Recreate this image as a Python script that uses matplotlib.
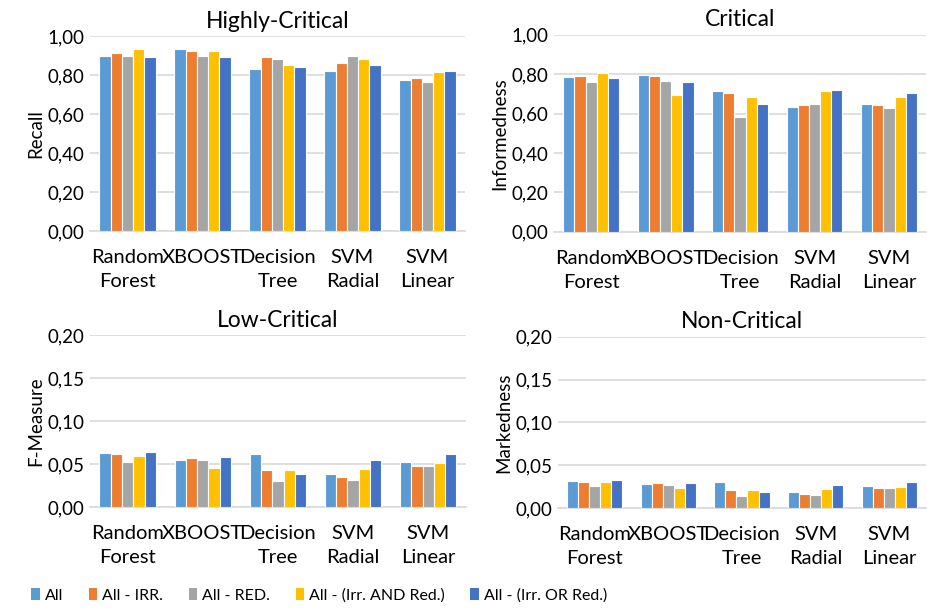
import numpy as np
import matplotlib
matplotlib.use("Agg")
import matplotlib.pyplot as plt
from matplotlib.patches import Patch

plt.rcParams["font.family"] = ["Lato", "DejaVu Sans"]

models = ["Random\nForest", "XBOOST", "Decision\nTree", "SVM\nRadial", "SVM\nLinear"]
series = ["All", "All - IRR.", "All - RED.", "All - (Irr. AND Red.)", "All - (Irr. OR Red.)"]
colors = ["#5B9BD5", "#ED7D31", "#A5A5A5", "#FFC000", "#4472C4"]

# rows = models, columns = series
recall = [
    [0.90, 0.913, 0.90, 0.932, 0.89],
    [0.932, 0.921, 0.90, 0.921, 0.89],
    [0.829, 0.89, 0.88, 0.85, 0.839],
    [0.819, 0.86, 0.90, 0.88, 0.85],
    [0.773, 0.783, 0.764, 0.814, 0.819],
]
informedness = [
    [0.785, 0.790, 0.760, 0.805, 0.780],
    [0.795, 0.790, 0.765, 0.692, 0.758],
    [0.714, 0.704, 0.582, 0.682, 0.651],
    [0.633, 0.646, 0.651, 0.714, 0.719],
    [0.651, 0.646, 0.628, 0.682, 0.702],
]
fmeasure = [
    [0.063, 0.061, 0.052, 0.059, 0.064],
    [0.055, 0.057, 0.054, 0.045, 0.058],
    [0.061, 0.043, 0.030, 0.043, 0.038],
    [0.038, 0.035, 0.031, 0.044, 0.055],
    [0.052, 0.048, 0.048, 0.051, 0.061],
]
markedness = [
    [0.032, 0.030, 0.026, 0.030, 0.033],
    [0.028, 0.029, 0.027, 0.023, 0.029],
    [0.030, 0.021, 0.014, 0.021, 0.019],
    [0.019, 0.016, 0.015, 0.022, 0.027],
    [0.026, 0.023, 0.023, 0.025, 0.030],
]

panels = [
    ("Highly-Critical", "Recall", recall, [0.097, 0.621, 0.404, 0.320], np.arange(0, 1.01, 0.2), 1.0),
    ("Critical", "Informedness", informedness, [0.597, 0.620, 0.401, 0.323], np.arange(0, 1.01, 0.2), 1.0),
    ("Low-Critical", "F-Measure", fmeasure, [0.097, 0.169, 0.405, 0.282], np.arange(0, 0.201, 0.05), 0.2),
    ("Non-Critical", "Markedness", markedness, [0.601, 0.167, 0.397, 0.281], np.arange(0, 0.201, 0.05), 0.2),
]

fig = plt.figure(figsize=(9.28, 6.10), dpi=100)
x = np.arange(len(models))
w = 0.15

for title, ylab, vals, rect, ticks, top in panels:
    ax = fig.add_axes(rect)
    vals = np.array(vals)
    for j in range(len(series)):
        ax.bar(x + (j - 2) * w, vals[:, j], width=w, color=colors[j],
               edgecolor="white", linewidth=0.8, zorder=3)
    ax.set_xlim(-0.5, len(models) - 0.5)
    ax.set_ylim(0, top)
    ax.set_yticks(ticks)
    ax.set_yticklabels([f"{t:.2f}".replace(".", ",") for t in ticks], fontsize=13.5)
    ax.set_xticks(x)
    ax.set_xticklabels(models, fontsize=14.5, linespacing=1.5)
    ax.tick_params(axis="both", length=0)
    ax.tick_params(axis="x", pad=13)
    ax.tick_params(axis="y", pad=4)
    ax.grid(axis="y", color="#D9D9D9", linewidth=1.2, zorder=0)
    for s in ["top", "right", "left"]:
        ax.spines[s].set_visible(False)
    ax.spines["bottom"].set_color("#D9D9D9")
    ax.spines["bottom"].set_linewidth(1.2)
    ax.set_title(title, fontsize=16.5, pad=6)
    ax.set_ylabel(ylab, fontsize=13.5, labelpad=2)

handles = [Patch(facecolor=c, edgecolor="none") for c in colors]
fig.legend(handles, series, loc="center left", bbox_to_anchor=(0.018, 0.024), ncol=5,
           frameon=False, fontsize=11.5,
           handlelength=0.55, handleheight=0.8, handletextpad=0.3, columnspacing=1.6)

fig.savefig("out.png", dpi=100)
